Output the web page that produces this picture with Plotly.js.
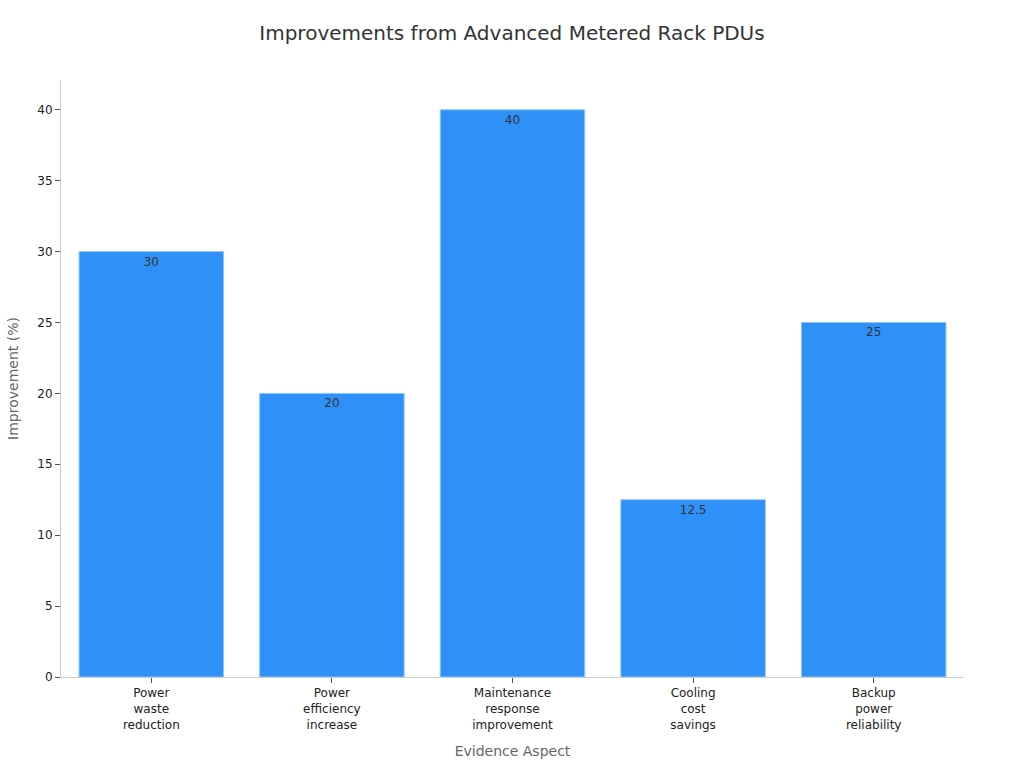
<!DOCTYPE html>
<html><head><meta charset="utf-8">
<script src="https://cdn.plot.ly/plotly-3.0.1.min.js"></script>
<style>html,body{margin:0;padding:0;background:#fff}#chart{width:1024px;height:768px}</style>
</head><body><div id="chart"></div>
<script>
const categories = ["Power<br>waste<br>reduction","Power<br>efficiency<br>increase","Maintenance<br>response<br>improvement","Cooling<br>cost<br>savings","Backup<br>power<br>reliability"];
const improvement = [30, 20, 40, 12.5, 25];
const labels = ["30","20","40","12.5","25"];

const trace = {
  type: 'bar', x: categories, y: improvement, text: labels,
  textposition: 'inside', insidetextanchor: 'end',
  textfont: {family: 'DejaVu Sans', size: 12, color: '#333'},
  marker: {color: '#2F91F8', line: {color: '#8fc4fb', width: 1}},
  hoverinfo: 'none', cliponaxis: false
};
const layout = {
  width: 1024, height: 768,
  margin: {l: 61, r: 60, t: 80, b: 91},
  paper_bgcolor: '#fff', plot_bgcolor: '#fff',
  font: {family: 'DejaVu Sans', size: 12, color: '#222'},
  title: {text: 'Improvements from Advanced Metered Rack PDUs', x: 0.5, xanchor: 'center', y: 0.957, yanchor: 'middle', font: {size: 20, color: '#333'}},
  bargap: 0.2,
  xaxis: {
    title: {text: 'Evidence Aspect', font: {size: 14, color: '#666'}, standoff: 15},
    showline: true, linecolor: '#ccc', linewidth: 1, ticks: 'outside', ticklen: 5, tickcolor: '#555',
    tickfont: {size: 12, color: '#222'}, showgrid: false, zeroline: false
  },
  yaxis: {
    title: {text: 'Improvement (%)', font: {size: 14, color: '#666'}, standoff: 15},
    range: [0, 42.1], dtick: 5, showline: true, linecolor: '#ccc', linewidth: 1,
    ticks: 'outside', ticklen: 5, tickcolor: '#555', tickfont: {size: 12, color: '#222'},
    showgrid: false, zeroline: false
  },
  showlegend: false
};
Plotly.newPlot('chart', [trace], layout, {displayModeBar: false, staticPlot: true});
</script></body></html>
